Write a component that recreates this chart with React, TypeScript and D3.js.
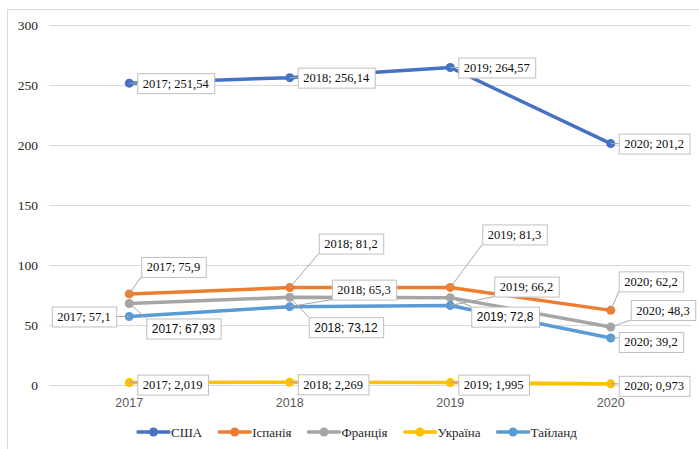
import React from 'react';
import * as d3 from 'd3';

const years = ['2017', '2018', '2019', '2020'];
const seriesNames = ['США', 'Іспанія', 'Франція', 'Україна', 'Тайланд'];
const usaValues = [251.54, 256.14, 264.57, 201.2];
const spainValues = [75.9, 81.2, 81.3, 62.2];
const franceValues = [67.93, 73.12, 72.8, 48.3];
const ukraineValues = [2.019, 2.269, 1.995, 0.973];
const thailandValues = [57.1, 65.3, 66.2, 39.2];
const yTicks = [0, 50, 100, 150, 200, 250, 300];

const seriesValues = [usaValues, spainValues, franceValues, ukraineValues, thailandValues];
const colors = ['#4472C4', '#ED7D31', '#A5A5A5', '#FFC000', '#5B9BD5'];

// label box offsets (top-left of box relative to point; negative dx = right edge offset)
const labelOffsets: [number, number][][] = [
  [[8, -10], [8, -10], [8, -10], [8, -10]],
  [[12, -37], [29, -54], [32, -63], [8, -39]],
  [[17, 15], [19, 20], [21, 9], [20, -27]],
  [[8, -8], [8, -8], [8, -8], [8, -8]],
  [[-13, -10], [42, -27], [44, -29], [8, -6]],
];
const sansLabel = [
  [false, false, false, false],
  [false, false, false, false],
  [true, true, true, false],
  [false, false, false, false],
  [false, false, false, false],
];

const W = 699, H = 449;
const SERIF = 'Liberation Serif';
const SANS = 'Liberation Sans';

let ctx: CanvasRenderingContext2D | null = null;
function measure(text: string, font: string): number {
  if (!ctx) ctx = document.createElement('canvas').getContext('2d');
  if (!ctx) return text.length * 6.2;
  ctx.font = font;
  return ctx.measureText(text).width;
}

function fmt(v: number) {
  return String(v).replace('.', ',');
}

export default function App() {
  const x = d3.scaleBand<string>().domain(years).range([49, 691]).padding(0);
  const cx = (yr: string) => (x(yr) as number) + x.bandwidth() / 2;
  const y = d3.scaleLinear().domain([0, 300]).range([385, 25]);
  const line = d3.line<number>().x((_, i) => cx(years[i])).y((d) => y(d));

  const labels: any[] = [];
  seriesValues.forEach((vals, si) => {
    vals.forEach((v, i) => {
      const px = cx(years[i]);
      const py = y(v);
      const sans = sansLabel[si][i];
      const text = sans ? `${years[i]}; ${fmt(v)}` : `${years[i]}; ${fmt(v)}`;
      const fs = sans ? 12 : 12.5;
      const font = `${fs}px "${sans ? SANS : SERIF}"`;
      const tw = measure(text, font);
      const bw = tw + 11;
      const bh = 20;
      const [dx, dy] = labelOffsets[si][i];
      const bx = dx < 0 ? px + dx - bw : px + dx;
      const by = py + dy;
      const ax = Math.max(bx, Math.min(px, bx + bw));
      const ay = Math.max(by, Math.min(py, by + bh));
      labels.push({ key: `${si}-${i}`, px, py, text, sans, fs, bx, by, bw, bh, ax, ay });
    });
  });

  // legend layout
  const legendFont = `13px "${SERIF}"`;
  let lx = 138;
  const legendItems = seriesNames.map((name, i) => {
    const tw = measure(name, legendFont);
    const item = { name, x: lx, color: colors[i] };
    lx += 31 + 2 + tw + 17;
    return item;
  });

  return (
    <svg width={W} height={H} style={{ position: 'absolute', left: 0, top: 0, background: '#fff' }}>
      <rect x={0} y={0} width={W} height={H} fill="#fff" />
      <rect x={7.5} y={9.5} width={W + 10} height={H + 10} fill="none" stroke="#d9d9d9" strokeWidth={1} />
      {yTicks.map((t) => (
        <g key={t}>
          <line x1={49} x2={691} y1={Math.round(y(t)) + 0.5} y2={Math.round(y(t)) + 0.5} stroke="#d9d9d9" strokeWidth={1} />
          <text x={38} y={y(t) + 4.5} textAnchor="end" style={{ fontFamily: SERIF, fontSize: 13.5 }} fill="#262626">{t}</text>
        </g>
      ))}
      {years.map((yr) => (
        <text key={yr} x={cx(yr)} y={407} textAnchor="middle" style={{ fontFamily: SANS, fontSize: 12.5 }} fill="#595959">{yr}</text>
      ))}
      {seriesValues.map((vals, si) => (
        <g key={si}>
          <path d={line(vals) || ''} fill="none" stroke={colors[si]} strokeWidth={3.5} strokeLinejoin="round" strokeLinecap="round" />
          {vals.map((v, i) => (
            <circle key={i} cx={cx(years[i])} cy={y(v)} r={4.5} fill={colors[si]} />
          ))}
        </g>
      ))}
      {labels.map((l) => (
        <line key={'ld' + l.key} x1={l.px} y1={l.py} x2={l.ax} y2={l.ay} stroke="#a6a6a6" strokeWidth={1} />
      ))}
      {labels.map((l) => (
        <g key={'lb' + l.key}>
          <rect x={l.bx + 0.5} y={l.by + 0.5} width={l.bw} height={l.bh} fill="#fff" stroke="#bfbfbf" strokeWidth={1} />
          <text x={l.bx + 5.5} y={l.by + 14.5} style={{ fontFamily: l.sans ? SANS : SERIF, fontSize: l.fs }} fill="#0d0d0d">{l.text}</text>
        </g>
      ))}
      {legendItems.map((it) => (
        <g key={it.name}>
          <line x1={it.x} x2={it.x + 31} y1={432} y2={432} stroke={it.color} strokeWidth={3.5} strokeLinecap="round" />
          <circle cx={it.x + 15.5} cy={432} r={4.5} fill={it.color} />
          <text x={it.x + 33} y={436.5} style={{ fontFamily: SERIF, fontSize: 13 }} fill="#262626">{it.name}</text>
        </g>
      ))}
    </svg>
  );
}
